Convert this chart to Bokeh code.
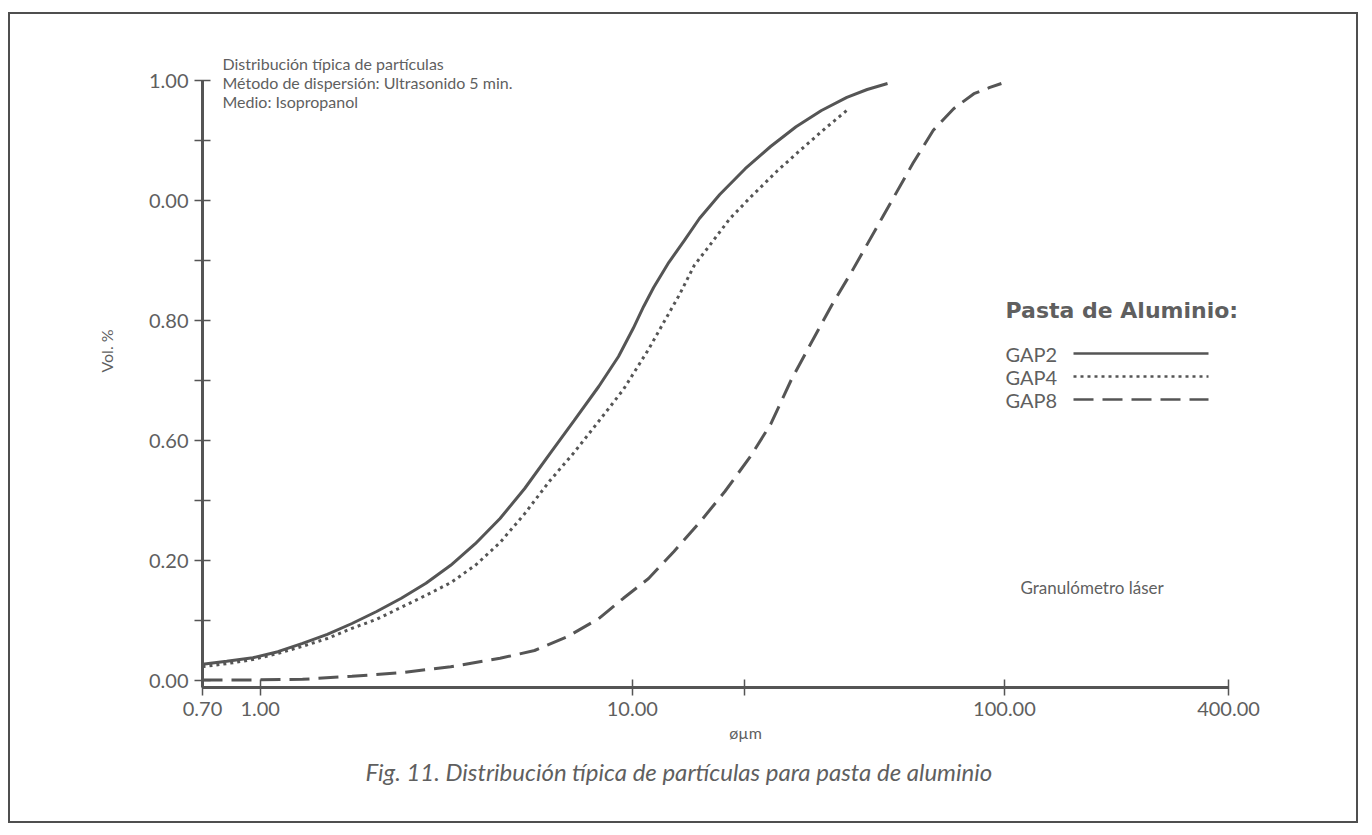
import math
from bokeh.plotting import figure
from bokeh.models import FixedTicker, Label, Range1d, Title
from bokeh.embed import file_html
from bokeh.resources import INLINE

# ---------------- data ----------------
gap2_x = [0.700, 0.813, 0.956, 1.116, 1.300, 1.515, 1.765, 2.056, 2.395, 2.790, 3.251, 3.786,
          4.412, 5.139, 5.988, 6.975, 8.125, 9.182, 10.06, 10.72, 11.41, 12.54, 13.79, 15.15,
          17.18, 20.11, 23.53, 27.54, 32.23, 37.72, 42.77, 48.51]
gap2_y = [0.027, 0.032, 0.038, 0.048, 0.062, 0.077, 0.095, 0.115, 0.137, 0.162, 0.192, 0.228,
          0.270, 0.320, 0.377, 0.433, 0.490, 0.540, 0.587, 0.623, 0.655, 0.697, 0.733, 0.770,
          0.810, 0.853, 0.890, 0.923, 0.950, 0.972, 0.985, 0.995]

gap4_x = [0.700, 0.813, 0.956, 1.116, 1.300, 1.515, 1.765, 2.056, 2.395, 2.790, 3.251, 3.786,
          4.412, 5.139, 5.988, 6.975, 8.125, 9.465, 11.06, 12.15, 13.36, 14.68, 16.13, 18.30,
          20.75, 24.58, 28.41, 33.25, 38.19]
gap4_y = [0.023, 0.028, 0.035, 0.045, 0.057, 0.070, 0.087, 0.102, 0.122, 0.142, 0.163, 0.192,
          0.230, 0.278, 0.332, 0.380, 0.432, 0.485, 0.552, 0.597, 0.642, 0.692, 0.725, 0.770,
          0.805, 0.850, 0.885, 0.922, 0.953]

gap8_x = [0.700, 0.956, 1.300, 1.765, 2.395, 3.251, 4.412, 5.463, 6.642, 8.125, 9.465, 11.06,
          12.94, 15.15, 17.73, 20.75, 23.53, 26.69, 30.26, 34.32, 38.92, 47.01, 56.77, 64.39,
          73.02, 82.78, 91.00, 98.13]
gap8_y = [0.001, 0.001, 0.002, 0.007, 0.013, 0.023, 0.037, 0.050, 0.072, 0.103, 0.137, 0.170,
          0.215, 0.263, 0.315, 0.373, 0.427, 0.500, 0.563, 0.625, 0.682, 0.772, 0.862, 0.917,
          0.953, 0.978, 0.988, 0.995]

series_names = ["GAP2", "GAP4", "GAP8"]

x_ticks = [0.7, 1, 10, 100, 400]
x_tick_labels = ["0.70", "1.00", "10.00", "100.00", "400.00"]
x_minor_ticks = [20]

y_ticks = [0.0, 0.2, 0.4, 0.6, 0.8, 1.0]
y_tick_labels = ["0.00", "0.20", "0.60", "0.80", "0.00", "1.00"]
y_minor_ticks = [0.1, 0.3, 0.5, 0.7, 0.9]

notes = ["Distribución típica de partículas",
         "Método de dispersión: Ultrasonido 5 min.",
         "Medio: Isopropanol"]
legend_title = "Pasta de Aluminio:"
instrument = "Granulómetro láser"
x_label = "øµm"
y_label = "Vol. %"
caption = "Fig. 11. Distribución típica de partículas para pasta de aluminio"

# ---------------- geometry (page pixels) ----------------
CANVAS_X0, CANVAS_Y0 = 10, 14          # canvas origin on the page
W, H = 1350, 811                       # canvas size
AX_X0, AX_X1 = 202, 1228               # x = 0.7 .. 400
FRAME_RIGHT = 1288
Y0_PX, Y1_PX = 680, 80                 # y = 0 .. 1
FRAME_BOTTOM = 687

DEC = (AX_X1 - AX_X0) / math.log10(400 / 0.7)


def fx(px):
    return 10 ** (math.log10(0.7) + (px - AX_X0) / DEC)


def fy(py):
    return (Y0_PX - py) / (Y0_PX - Y1_PX)


TXT = "#5f5f5f"
LINE = "#555555"
FONT = "Lato"

p = figure(width=W, height=H, x_axis_type="log", output_backend="svg",
           toolbar_location=None,
           x_range=Range1d(fx(AX_X0), fx(FRAME_RIGHT)),
           y_range=Range1d(fy(FRAME_BOTTOM), fy(CANVAS_Y0)),
           min_border_left=AX_X0 - CANVAS_X0, min_border_right=CANVAS_X0 + W - FRAME_RIGHT,
           min_border_top=0, min_border_bottom=CANVAS_Y0 + H - FRAME_BOTTOM)
p.styles = {"border": "2px solid #4f4f4f", "margin-top": "12px", "margin-left": "8px"}
p.outline_line_color = None
p.xgrid.visible = False
p.ygrid.visible = False
p.background_fill_color = "white"
p.border_fill_color = "white"

# axes
xa = p.xaxis[0]
xa.ticker = FixedTicker(ticks=x_ticks, minor_ticks=x_minor_ticks)
xa.major_label_overrides = dict(zip(x_ticks, x_tick_labels))
xa.bounds = (x_ticks[0], x_ticks[-1])
ya = p.yaxis[0]
ya.ticker = FixedTicker(ticks=y_ticks, minor_ticks=y_minor_ticks)
ya.major_label_overrides = dict(zip(y_ticks, y_tick_labels))
ya.bounds = (fy(FRAME_BOTTOM), y_ticks[-1])
for ax in (xa, ya):
    ax.axis_line_color = LINE
    ax.axis_line_width = 3
    ax.major_tick_line_color = LINE
    ax.minor_tick_line_color = LINE
    ax.major_tick_line_width = 1.5
    ax.minor_tick_line_width = 1.5
    ax.major_tick_in = 8
    ax.major_tick_out = 8
    ax.minor_tick_in = 8
    ax.minor_tick_out = 8
    ax.major_label_text_font = FONT
    ax.major_label_text_font_size = "20px"
    ax.major_label_text_color = TXT
    ax.major_label_standoff = 6
    ax.axis_label_text_font = FONT
    ax.axis_label_text_font_size = "16px"
    ax.axis_label_text_font_style = "normal"
    ax.axis_label_text_color = TXT
xa.axis_label = x_label
xa.axis_label_standoff = 4
ya.axis_label = y_label
ya.axis_label_standoff = 30

p.add_layout(Title(text=caption, align="left", offset=163, text_font=FONT,
                   text_font_size="24px", text_font_style="italic", text_color=TXT,
                   standoff=21), "below")

# curves
p.line(gap2_x, gap2_y, line_color=LINE, line_width=3)
p.line(gap4_x, gap4_y, line_color=LINE, line_width=3, line_dash="3 4")
p.line(gap8_x, gap8_y, line_color=LINE, line_width=3, line_dash="20 9")


def label(text, px, py, size, align="left", style="normal", font=FONT):
    p.add_layout(Label(x=fx(px), y=fy(py), text=text, text_font=font,
                       text_font_size=size, text_color=TXT, text_align=align,
                       text_baseline="middle", text_font_style=style))


for i, t in enumerate(notes):
    label(t, 222, 63 + 19 * i, "16px")

label(legend_title, 1005, 310, "22px", style="bold", font="DejaVu Sans")
dashes = [None, "3 4", "20 9"]
for i, name in enumerate(series_names):
    yy = 353 + 23 * i
    label(name, 1005, yy, "20px")
    kw = {} if dashes[i] is None else {"line_dash": dashes[i]}
    p.line([fx(1073), fx(1208)], [fy(yy), fy(yy)], line_color=LINE, line_width=2.5, **kw)

label(instrument, 1020, 587, "17px")

open("out.html", "w").write(file_html(p, INLINE))
